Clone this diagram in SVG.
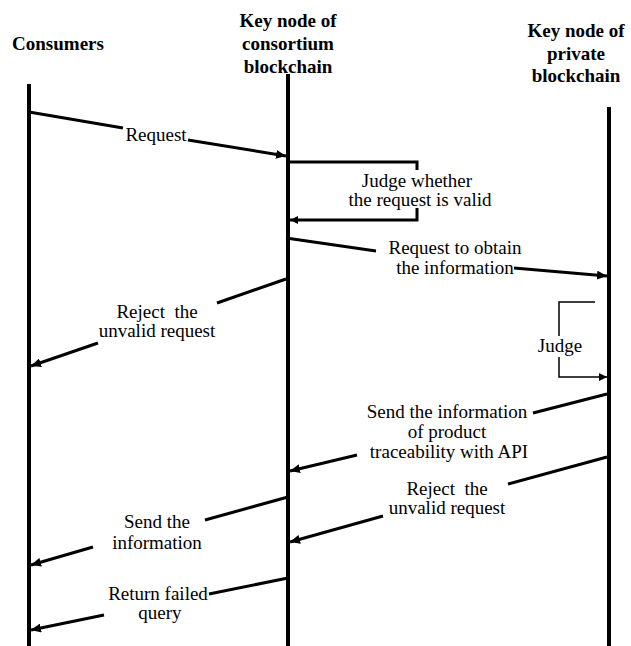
<svg xmlns="http://www.w3.org/2000/svg" width="631" height="646" viewBox="0 0 631 646">
  <style>
    .life { stroke: #000; stroke-width: 4; fill: none; }
    .msg { stroke: #000; stroke-width: 3; fill: none; }
    .thin { stroke: #000; stroke-width: 1.5; fill: none; }
  </style>
  <defs>
    <marker id="arrow" markerUnits="userSpaceOnUse" markerWidth="11" markerHeight="9" refX="10" refY="4.5" orient="auto">
      <path d="M0,0 L10,4.5 L0,9 z" fill="#000"/>
    </marker>
    <marker id="arrowSmall" markerUnits="userSpaceOnUse" markerWidth="9" markerHeight="8" refX="8" refY="4" orient="auto">
      <path d="M0,0 L8,4 L0,8 z" fill="#000"/>
    </marker>
  </defs>
  <rect width="631" height="646" fill="#fff"/>

  <!-- participants -->
  <g id="consumers">
    <text x="58" y="50" font-family="Liberation Serif" font-size="19" font-weight="bold" text-anchor="middle">Consumers</text>
    <line class="life" x1="29" y1="84" x2="29" y2="646"/>
  </g>
  <g id="consortium-node">
    <text x="288" y="27" font-family="Liberation Serif" font-size="19" font-weight="bold" text-anchor="middle">Key node of</text>
    <text x="288" y="50" font-family="Liberation Serif" font-size="19" font-weight="bold" text-anchor="middle">consortium</text>
    <text x="288" y="73" font-family="Liberation Serif" font-size="19" font-weight="bold" text-anchor="middle">blockchain</text>
    <line class="life" x1="288" y1="74" x2="288" y2="646"/>
  </g>
  <g id="private-node">
    <text x="576" y="37" font-family="Liberation Serif" font-size="19" font-weight="bold" text-anchor="middle">Key node of</text>
    <text x="576" y="60" font-family="Liberation Serif" font-size="19" font-weight="bold" text-anchor="middle">private</text>
    <text x="576" y="82" font-family="Liberation Serif" font-size="19" font-weight="bold" text-anchor="middle">blockchain</text>
    <line class="life" x1="609" y1="107" x2="609" y2="646"/>
  </g>

  <!-- messages -->
  <g id="connectors">
    <!-- Request -->
    <line class="msg" x1="29" y1="112" x2="123" y2="128"/>
    <line class="msg" x1="188" y1="140" x2="286" y2="156" marker-end="url(#arrow)"/>
    <!-- validity check on the consortium node -->
    <polyline class="msg" points="288,162 417,162 417,170"/>
    <polyline class="msg" points="417,208 417,220 290,220" marker-end="url(#arrowSmall)"/>
    <!-- request to private node -->
    <line class="msg" x1="286" y1="238" x2="376" y2="251"/>
    <line class="msg" x1="514" y1="268" x2="607" y2="276" marker-end="url(#arrow)"/>
    <!-- reject to consumers -->
    <line class="msg" x1="286" y1="279" x2="217" y2="303"/>
    <line class="msg" x1="98" y1="343" x2="31" y2="366" marker-end="url(#arrow)"/>
    <!-- judge on the private node -->
    <polyline class="thin" points="595,302 559,302 559,336"/>
    <polyline class="thin" points="559,357 559,377 607,377" marker-end="url(#arrowSmall)"/>
    <!-- send traceability information -->
    <line class="msg" x1="607" y1="394" x2="533" y2="413"/>
    <line class="msg" x1="357" y1="455" x2="290" y2="471" marker-end="url(#arrow)"/>
    <!-- reject from private node -->
    <line class="msg" x1="607" y1="457" x2="508" y2="484"/>
    <line class="msg" x1="383" y1="516" x2="290" y2="542" marker-end="url(#arrow)"/>
    <!-- send information to consumers -->
    <line class="msg" x1="288" y1="497" x2="205" y2="520"/>
    <line class="msg" x1="93" y1="547" x2="31" y2="565" marker-end="url(#arrow)"/>
    <!-- return failed query -->
    <line class="msg" x1="288" y1="578" x2="209" y2="594"/>
    <line class="msg" x1="104" y1="615" x2="31" y2="630" marker-end="url(#arrow)"/>
  </g>

  <!-- message labels -->
  <g id="labels">
    <text x="156" y="141" font-family="Liberation Serif" font-size="19" text-anchor="middle">Request</text>
    <text x="417" y="187" font-family="Liberation Serif" font-size="19" text-anchor="middle">Judge whether</text>
    <text x="420" y="206" font-family="Liberation Serif" font-size="19" text-anchor="middle">the request is valid</text>
    <text x="455" y="254" font-family="Liberation Serif" font-size="19" text-anchor="middle">Request to obtain</text>
    <text x="455" y="274" font-family="Liberation Serif" font-size="19" text-anchor="middle">the information</text>
    <text x="157" y="318" font-family="Liberation Serif" font-size="19" text-anchor="middle" xml:space="preserve">Reject  the</text>
    <text x="157" y="337" font-family="Liberation Serif" font-size="19" text-anchor="middle">unvalid request</text>
    <text x="560" y="352" font-family="Liberation Serif" font-size="19" text-anchor="middle">Judge</text>
    <text x="447" y="418" font-family="Liberation Serif" font-size="19" text-anchor="middle">Send the information</text>
    <text x="447" y="438" font-family="Liberation Serif" font-size="19" text-anchor="middle">of product</text>
    <text x="449" y="458" font-family="Liberation Serif" font-size="19" text-anchor="middle">traceability with API</text>
    <text x="447" y="495" font-family="Liberation Serif" font-size="19" text-anchor="middle" xml:space="preserve">Reject  the</text>
    <text x="447" y="514" font-family="Liberation Serif" font-size="19" text-anchor="middle">unvalid request</text>
    <text x="157" y="528" font-family="Liberation Serif" font-size="19" text-anchor="middle">Send the</text>
    <text x="157" y="549" font-family="Liberation Serif" font-size="19" text-anchor="middle">information</text>
    <text x="158" y="600" font-family="Liberation Serif" font-size="19" text-anchor="middle">Return failed</text>
    <text x="160" y="619" font-family="Liberation Serif" font-size="19" text-anchor="middle">query</text>
  </g>
</svg>
